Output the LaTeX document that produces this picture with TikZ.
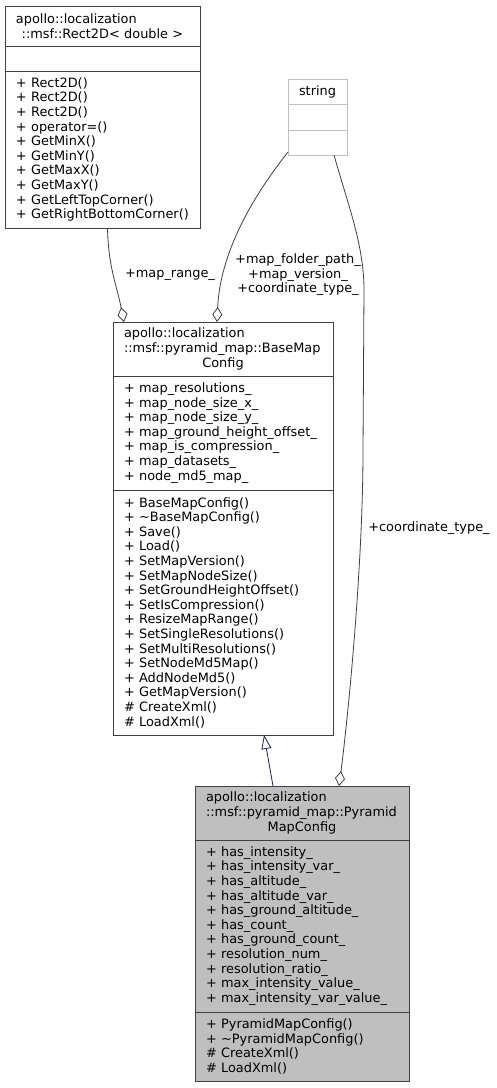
\documentclass[tikz,border=0pt]{standalone}
\usepackage{fontspec}
\setmainfont{DejaVu Sans}
\usepackage{tikz}
\usetikzlibrary{positioning}
\usetikzlibrary{arrows.meta}
\definecolor{edgegray}{HTML}{404040}
\definecolor{inhblue}{HTML}{191970}
\definecolor{cellgray}{HTML}{BFBFBF}
\tikzset{line/.style={draw=edgegray, line width=0.8pt, -{Diamond[open, length=15pt, width=10pt]}}}
\tikzset{isa/.style={draw=inhblue, line width=0.8pt, -{Triangle[open, length=14pt, width=10pt]}}}
\hyphenpenalty=10000
\exhyphenpenalty=10000
\newcommand{\lastline}[1]{\hfill#1\hfill\hbox{}}

\begin{document}
\begin{tikzpicture}[x=1pt, y=-1pt, font=\fontsize{12.9}{14.6}\selectfont]
\tikzstyle{block} = [rectangle, draw=black!75, line width=0.9pt, inner xsep=11pt, inner ysep=0pt, outer sep=0pt, align=left]
\tikzstyle{rect} = [block, minimum width=195pt, text width=173pt]
\tikzstyle{strcell} = [block, draw=cellgray, minimum width=59pt, align=center]
\tikzstyle{base} = [block, minimum width=220pt, text width=198pt]
\tikzstyle{pyra} = [block, fill=cellgray, minimum width=214pt, text width=192pt]
\tikzstyle{lbl} = [inner sep=0pt, align=center]
\path [use as bounding box, fill=white] (0,0) rectangle (496,1088);

% Rect2D
    \node [rect, minimum height=40pt, anchor=north west] (r2dhead) at (5,6) {apollo::localization\\ \lastline{::msf::Rect2D< double >}};
    \node [rect, minimum height=25pt, below=0pt of r2dhead] (r2dattr) {};
    \node [rect, minimum height=157pt, below=0pt of r2dattr] (r2dops) {+~Rect2D()\\ +~Rect2D()\\ +~Rect2D()\\ +~operator=()\\ +~GetMinX()\\ +~GetMinY()\\ +~GetMaxX()\\ +~GetMaxY()\\ +~GetLeftTopCorner()\\ +~GetRightBottomCorner()};
% string
    \node [strcell, minimum height=25pt, anchor=north west] (strhead) at (288,79) {string};
    \node [strcell, minimum height=26pt, below=0pt of strhead] (strattr) {};
    \node [strcell, minimum height=25pt, below=0pt of strattr] (strops) {};
% BaseMapConfig
    \node [base, minimum height=54pt, anchor=north west] (bmchead) at (113,322) {apollo::localization\\ ::msf::pyramid\_map::BaseMap\\ \lastline{Config}};
    \node [base, minimum height=114pt, below=0pt of bmchead] (bmcattr) {+~map\_resolutions\_\\ +~map\_node\_size\_x\_\\ +~map\_node\_size\_y\_\\ +~map\_ground\_height\_offset\_\\ +~map\_is\_compression\_\\ +~map\_datasets\_\\ +~node\_md5\_map\_};
    \node [base, minimum height=245pt, below=0pt of bmcattr] (bmcops) {+~BaseMapConfig()\\ +~\textasciitilde BaseMapConfig()\\ +~Save()\\ +~Load()\\ +~SetMapVersion()\\ +~SetMapNodeSize()\\ +~SetGroundHeightOffset()\\ +~SetIsCompression()\\ +~ResizeMapRange()\\ +~SetSingleResolutions()\\ +~SetMultiResolutions()\\ +~SetNodeMd5Map()\\ +~AddNodeMd5()\\ +~GetMapVersion()\\ \#~CreateXml()\\ \#~LoadXml()};
% PyramidMapConfig
    \node [pyra, minimum height=54pt, anchor=north west] (pmchead) at (195,786) {apollo::localization\\ ::msf::pyramid\_map::Pyramid\\ \lastline{MapConfig}};
    \node [pyra, minimum height=172pt, below=0pt of pmchead] (pmcattr) {+~has\_intensity\_\\ +~has\_intensity\_var\_\\ +~has\_altitude\_\\ +~has\_altitude\_var\_\\ +~has\_ground\_altitude\_\\ +~has\_count\_\\ +~has\_ground\_count\_\\ +~resolution\_num\_\\ +~resolution\_ratio\_\\ +~max\_intensity\_value\_\\ +~max\_intensity\_var\_value\_};
    \node [pyra, minimum height=69pt, below=0pt of pmcattr] (pmcops) {+~PyramidMapConfig()\\ +~\textasciitilde PyramidMapConfig()\\ \#~CreateXml()\\ \#~LoadXml()};
% labels
    \node [lbl] (lrange) at (170,275) {+map\_range\_};
    \node [lbl] (lstring) at (298,275) {+map\_folder\_path\_\\+map\_version\_\\+coordinate\_type\_};
    \node [lbl] (lcoord) at (429,528) {+coordinate\_type\_};
% arrows
    \path [line] ([xshift=5pt]r2dops.south) .. controls +(1,40) and +(-8,-40) .. ([xshift=11pt]bmchead.north west);
    \path [line] ([yshift=3pt]strops.south west) .. controls +(-38,48) and +(3,-67) .. ([xshift=104pt]bmchead.north west);
    \path [line] ([xshift=16.5pt]strops.south) .. controls +(14,50) and +(0,-45) .. (364,290) -- (363,450) .. controls +(0,120) and +(8,-60) .. ([xshift=144pt]pmchead.north west);
    \path [isa] ([xshift=-29pt]pmchead.north) -- ([xshift=41pt]bmcops.south);
\end{tikzpicture}
\end{document}
